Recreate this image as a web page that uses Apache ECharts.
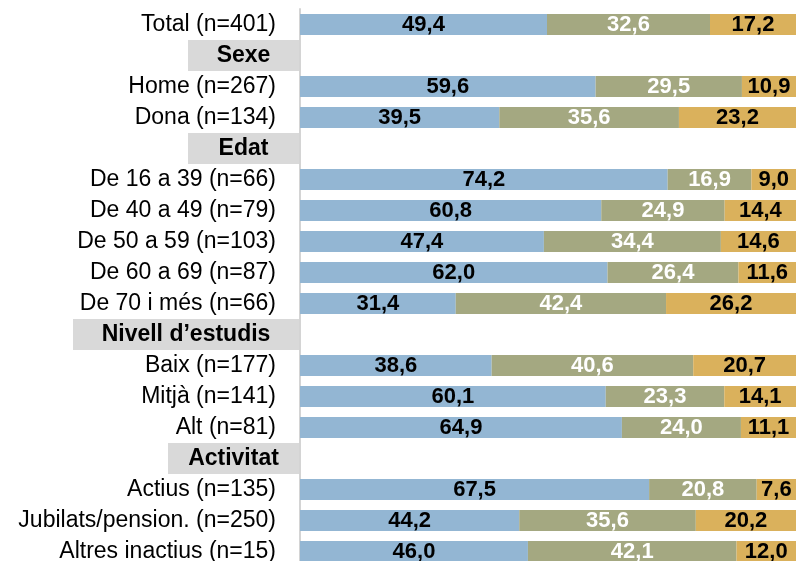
<!DOCTYPE html>
<html>
<head>
<meta charset="utf-8">
<script src="https://cdn.jsdelivr.net/npm/echarts@6/dist/echarts.min.js"></script>
<style>
  html, body { margin: 0; padding: 0; overflow: hidden; background: #fff; }
  #chart { width: 798px; height: 567px; }
</style>
</head>
<body>
<div id="chart"></div>
<script>
// categories, top to bottom (section headers included)
const categories = [
  'Total (n=401)',
  'Sexe',
  'Home (n=267)', 'Dona (n=134)',
  'Edat',
  'De 16 a 39 (n=66)', 'De 40 a 49 (n=79)', 'De 50 a 59 (n=103)', 'De 60 a 69 (n=87)', 'De 70 i més (n=66)',
  'Nivell d’estudis',
  'Baix (n=177)', 'Mitjà (n=141)', 'Alt (n=81)',
  'Activitat',
  'Actius (n=135)', 'Jubilats/pension. (n=250)', 'Altres inactius (n=15)'
]
const headers = ['Sexe', 'Edat', 'Nivell d’estudis', 'Activitat']

const serie1 = [49.4, null, 59.6, 39.5, null, 74.2, 60.8, 47.4, 62.0, 31.4, null, 38.6, 60.1, 64.9, null, 67.5, 44.2, 46.0]
const serie2 = [32.6, null, 29.5, 35.6, null, 16.9, 24.9, 34.4, 26.4, 42.4, null, 40.6, 23.3, 24.0, null, 20.8, 35.6, 42.1]
const serie3 = [17.2, null, 10.9, 23.2, null, 9.0, 14.4, 14.6, 11.6, 26.2, null, 20.7, 14.1, 11.1, null, 7.6, 20.2, 12.0]

const colors = ['#93b6d3', '#a4a881', '#dab15c']
const labelColors = ['#000', '#fff', '#000']
const headerBoxWidths = [111, 111, 226, 131]

const font = '"Liberation Sans", Arial, sans-serif'
const all = [serie1, serie2, serie3]

// each row is drawn as a share of its own total (bars all end at 100)
const rowTotal = categories.map((c, i) => all.reduce((s, arr) => s + (arr[i] || 0), 0))

const rich = {
  n: { fontSize: 23, fontFamily: font, color: '#000', padding: [0, 23, 0, 0] }
}
headers.forEach((h, i) => {
  rich['h' + i] = {
    fontSize: 23,
    fontWeight: 'bold',
    fontFamily: font,
    color: '#000',
    backgroundColor: '#d9d9d9',
    width: headerBoxWidths[i],
    height: 31,
    lineHeight: 31,
    align: 'center'
  }
})

const series = all.map((arr, k) => ({
  type: 'bar',
  stack: 'total',
  barWidth: 21,
  itemStyle: { color: colors[k] },
  label: {
    show: true,
    position: 'inside',
    color: labelColors[k],
    fontSize: 22,
    fontWeight: 'bold',
    fontFamily: font,
    formatter: (p) => arr[p.dataIndex].toFixed(1).replace('.', ',')
  },
  data: arr.map((v, i) => (v == null ? null : v / rowTotal[i] * 100))
}))

const chartIns = echarts.init(document.getElementById('chart'))
chartIns.setOption({
  animation: false,
  grid: { left: 300, right: 2, top: 9, bottom: 0, containLabel: false },
  xAxis: { type: 'value', min: 0, max: 100, show: false },
  yAxis: {
    type: 'category',
    inverse: true,
    data: categories,
    axisTick: { show: false },
    axisLine: { show: true, lineStyle: { color: '#d4d4d4', width: 2 } },
    axisLabel: {
      margin: 1,
      interval: 0,
      formatter: (value) => {
        const h = headers.indexOf(value)
        return h >= 0 ? `{h${h}|${value}}` : `{n|${value}}`
      },
      rich: rich
    }
  },
  series: series
})
</script>
</body>
</html>
